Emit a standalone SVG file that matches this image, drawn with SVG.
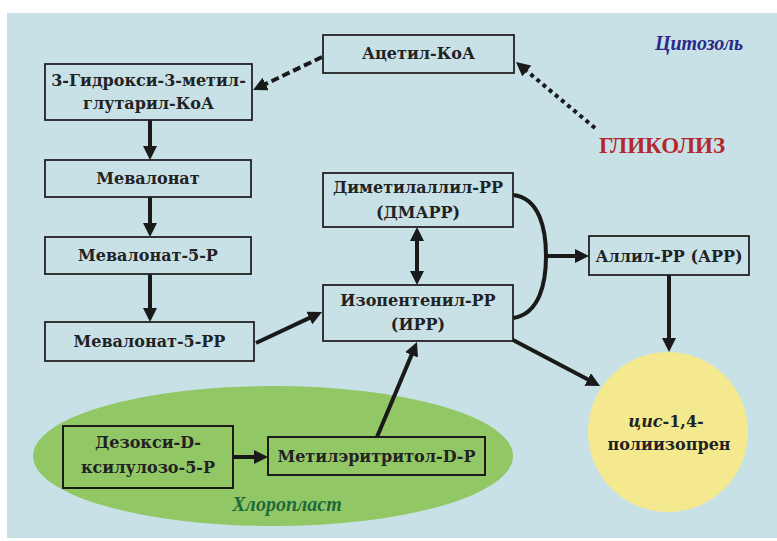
<svg xmlns="http://www.w3.org/2000/svg" width="777" height="541" viewBox="0 0 777 541">
<defs>
<style>
.box{fill:#c8e1e6;stroke:#222;stroke-width:1.8}
.gbox{fill:none;stroke:#1a1a1a;stroke-width:2}
.t{font-family:"DejaVu Serif","Liberation Serif",serif;font-weight:bold;font-size:16px;fill:#222;text-anchor:middle}
.ln{stroke:#1a1a1a;stroke-width:4;fill:none}
</style>
<marker id="ah" viewBox="0 0 10 10" refX="1" refY="5" markerWidth="14" markerHeight="14" markerUnits="userSpaceOnUse" orient="auto-start-reverse">
<path d="M0,0 L10,5 L0,10 z" fill="#1a1a1a"/>
</marker>
</defs>
<rect x="0" y="0" width="777" height="541" fill="#ffffff"/>
<rect x="7" y="13" width="770" height="525" fill="#c8e1e6"/>
<ellipse cx="273" cy="456" rx="240" ry="70" fill="#92c766"/>
<circle cx="668" cy="432" r="80" fill="#f5e98f"/>
<text x="699" y="50" style="font-family:'Liberation Serif',serif;font-style:italic;font-weight:bold;font-size:20px;fill:#2b2a8a;text-anchor:middle">Цитозоль</text>
<text x="662" y="153" style="font-family:'Liberation Serif',serif;font-weight:bold;font-size:23px;fill:#b3282e;text-anchor:middle">ГЛИКОЛИЗ</text>
<text x="287" y="511" style="font-family:'Liberation Serif',serif;font-style:italic;font-weight:bold;font-size:20px;fill:#1d6b3c;text-anchor:middle">Хлоропласт</text>
<g id="connectors">
<line class="ln" x1="150" y1="120" x2="150" y2="147.4" marker-end="url(#ah)"/>
<line class="ln" x1="150" y1="197" x2="150" y2="224.4" marker-end="url(#ah)"/>
<line class="ln" x1="150" y1="274" x2="150" y2="309.4" marker-end="url(#ah)"/>
<line class="ln" x1="256" y1="343" x2="310.6" y2="317.4" marker-end="url(#ah)"/>
<line class="ln" x1="417" y1="239.6" x2="417" y2="272.4" marker-start="url(#ah)" marker-end="url(#ah)"/>
<path class="ln" d="M513,195 C540,198 546,230 546,256 C546,282 540,314 513,318"/>
<line class="ln" x1="546" y1="256" x2="576.4" y2="256" marker-end="url(#ah)"/>
<line class="ln" x1="669" y1="275" x2="669" y2="339.4" marker-end="url(#ah)"/>
<line class="ln" x1="513" y1="340" x2="588.9" y2="380.1" marker-end="url(#ah)"/>
<line class="ln" x1="377" y1="437" x2="412.1" y2="353.6" marker-end="url(#ah)"/>
<line class="ln" x1="234" y1="457" x2="255.4" y2="457" marker-end="url(#ah)"/>
<line class="ln" x1="322" y1="57" x2="264.4" y2="84.6" stroke-width="6" stroke-dasharray="8 4" marker-end="url(#ah)"/>
<line class="ln" x1="595" y1="128" x2="525.7" y2="70.1" stroke-width="5" stroke-dasharray="4 4" marker-end="url(#ah)"/>
</g>
<g id="acetyl"><rect class="box" x="323" y="35" width="191" height="38"/><text class="t" x="418.5" y="59">Ацетил-КоА</text></g>
<g id="hmg"><rect class="box" x="45" y="64" width="207" height="56"/><text class="t" x="148.5" y="86">3-Гидрокси-3-метил-</text><text class="t" x="148.5" y="109">глутарил-КоА</text></g>
<g id="mev"><rect class="box" x="45" y="160" width="206" height="37"/><text class="t" x="148" y="184">Мевалонат</text></g>
<g id="mev5p"><rect class="box" x="45" y="237" width="206" height="37"/><text class="t" x="148" y="261">Мевалонат-5-Р</text></g>
<g id="mev5pp"><rect class="box" x="45" y="322" width="209" height="39"/><text class="t" x="149.5" y="347">Мевалонат-5-РР</text></g>
<g id="dmapp"><rect class="box" x="323" y="173" width="190" height="54"/><text class="t" x="418" y="193">Диметилаллил-РР</text><text class="t" x="418" y="218">(ДМАРР)</text></g>
<g id="ipp"><rect class="box" x="323" y="285" width="190" height="56"/><text class="t" x="418" y="306">Изопентенил-РР</text><text class="t" x="418" y="330">(ИРР)</text></g>
<g id="app"><rect class="box" x="589" y="236" width="160" height="39"/><text class="t" x="669" y="262">Аллил-РР (АРР)</text></g>
<g id="dxp"><rect class="gbox" x="63" y="426" width="170" height="62"/><text class="t" x="148" y="448">Дезокси-D-</text><text class="t" x="148" y="473">ксилулозо-5-Р</text></g>
<g id="mep"><rect class="gbox" x="268" y="437" width="217" height="38"/><text class="t" x="376.5" y="462">Метилэритритол-D-Р</text></g>
<g id="polyisoprene"><text class="t" x="666" y="427"><tspan font-style="italic">цис</tspan>-1,4-</text><text class="t" x="669" y="450">полиизопрен</text></g>
</svg>
